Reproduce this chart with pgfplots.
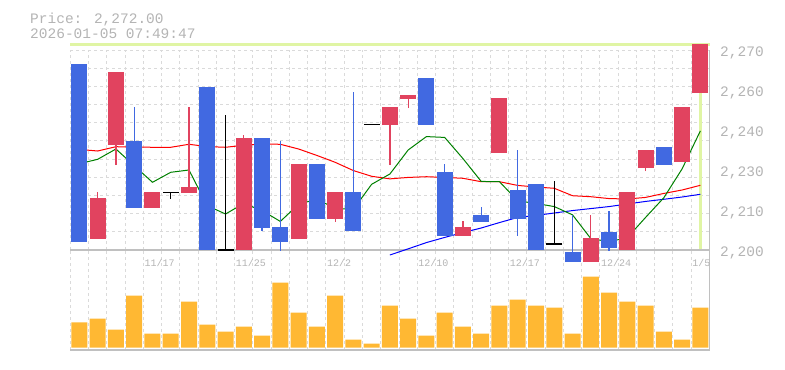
\documentclass[border=0pt]{standalone}
\usepackage{fontspec}
\setmainfont{Liberation Mono}
\usepackage{pgfplots}
\usepackage{pgfplotstable}
\pgfplotsset{compat=1.18}
\definecolor{cblue}{RGB}{65,105,225}
\definecolor{cred}{RGB}{225,67,95}
\definecolor{cvol}{RGB}{255,184,51}
\definecolor{lgreen}{RGB}{224,245,164}
\definecolor{gridc}{RGB}{218,218,218}
\definecolor{framec}{RGB}{192,192,192}
\definecolor{txtc}{RGB}{180,180,180}
\definecolor{magreen}{RGB}{0,128,0}

% bodies: x lo hi
\pgfplotstableread{
x lo hi
1 2203.9 2218.2
2 2236.75 2262.3
4 2214.7 2220.3
6 2219.95 2222.05
9 2200 2239.2
12 2203.85 2230.1
14 2210.85 2220.3
17 2243.75 2250.05
18 2252.85 2254.25
21 2204.9 2208.05
23 2233.95 2253.2
28 2195.9 2204.2
30 2200 2220.3
31 2228.7 2235
33 2230.8 2250.05
34 2254.95 2272
}\redbody
\pgfplotstableread{
x lo hi
0 2202.9 2265.1
3 2214.7 2238.15
7 2200 2257.05
10 2207.8 2239.2
11 2202.9 2208.05
13 2210.85 2230.1
15 2206.65 2220.3
19 2243.75 2260.2
20 2204.9 2227.3
22 2209.8 2212.25
24 2210.85 2221
25 2200 2223.1
27 2195.9 2199.3
29 2200.7 2206.3
32 2229.75 2236.05
}\bluebody
\pgfplotstableread{
x lo hi
1 2218.2 2220.3
2 2229.75 2236.75
6 2222.05 2250.05
9 2239.2 2240.25
14 2209.8 2210.85
17 2229.75 2243.75
18 2249.7 2252.85
21 2208.05 2210.15
28 2204.2 2212.25
31 2227.65 2228.7
}\redwick
\pgfplotstableread{
x lo hi
3 2238.15 2250.05
10 2206.75 2207.8
11 2199.75 2238.15
15 2220.3 2255.3
20 2227.3 2230.1
22 2212.25 2215.05
24 2204.9 2235
27 2199.3 2212.25
29 2199.65 2213.65
}\bluewick
\pgfplotstableread{
x lo hi
5 2218 2220.2
8 2200 2247.25
16 2244 2244
26 2202.1 2224.15
}\blackwick
\pgfplotstableread{
x y
5 2220.2
8 2200
16 2244
26 2202.1
}\dojitab
\pgfplotstableread{
x y
0 2230.2
1 2231.75
2 2235.35
3 2229.5
4 2223.7
5 2227.2
6 2228
7 2215.5
8 2212.6
9 2216.3
10 2213.8
11 2210.0
12 2216.0
13 2217.8
14 2214.6
15 2214.2
16 2223.0
17 2226.6
18 2235.0
19 2239.7
20 2239.4
21 2232.0
22 2224.0
23 2223.9
24 2217.2
25 2216.3
26 2215.2
27 2212.3
28 2204.0
29 2202.9
30 2204.3
31 2211.4
32 2218.3
33 2228.4
34 2241.7
}\magreentab
\pgfplotstableread{
x y
0 2235.2
1 2234.65
2 2236.15
3 2236.05
4 2235.95
5 2235.95
6 2237
7 2236.2
8 2235.95
9 2236.65
10 2237.1
11 2237
12 2235.35
13 2233.1
14 2230.7
15 2227.8
16 2225.8
17 2224.9
18 2225.4
19 2225.65
20 2225.4
21 2225.1
22 2223.9
23 2223.9
24 2222.6
25 2222.05
26 2221.6
27 2219
28 2218.65
29 2218
30 2217.85
31 2218.4
32 2219.8
33 2221
34 2222.65
}\maredtab
\pgfplotstableread{
x y
17 2198.25
18 2200.4
19 2202.6
20 2204.4
21 2206.1
22 2207.7
23 2209.6
24 2211.4
25 2212.1
26 2212.95
27 2213.8
28 2214.5
29 2215.2
30 2216.1
31 2217
32 2217.75
33 2218.55
34 2219.5
}\mabluetab
\pgfplotstableread{
x v
0 25.3
1 29
2 18
3 52
4 14
5 14
6 46
7 23
8 16
9 21
10 12
11 65
12 35
13 21
14 52
15 8
16 4
17 42
18 29
19 12
20 35
21 21
22 14
23 42
24 48
25 42
26 40
27 14
28 71
29 55
30 46
31 42
32 16
33 8
34 40
}\voltab

\pgfplotsset{
  candle/.style={forget plot, draw=none, mark=none,
    error bars/.cd, y dir=plus, y explicit, error mark=none,
    error bar style={draw=#1, line width=16bp}},
  wick/.style={forget plot, draw=none, mark=none,
    error bars/.cd, y dir=plus, y explicit, error mark=none,
    error bar style={draw=#1, line width=1.2bp}},
  vgrid/.style={
    xtick={-0.5,0.5,...,34.5}, xticklabel={\phantom{0}},
    xmajorgrids=true,
    major grid style={gridc, dash pattern=on 3bp off 3bp, line width=1bp},
    minor grid style={gridc, dash pattern=on 3bp off 3bp, line width=1bp},
    minor tick length=0pt, major tick length=0pt,
  },
}
\tikzset{datelbl/.style={anchor=base west, inner sep=0pt, xshift=1bp, text=txtc, font=\fontsize{10bp}{12bp}\selectfont}}

\begin{document}
\begin{tikzpicture}
\path[use as bounding box] (0,0) rectangle (785bp,370bp);
\node[anchor=base west, inner sep=0pt, text=txtc, font=\fontsize{14.5bp}{16bp}\selectfont] at (30bp,346.7bp) {Price: 2,272.00};
\node[anchor=base west, inner sep=0pt, text=txtc, font=\fontsize{14.5bp}{16bp}\selectfont] at (30bp,331.7bp) {2026-01-05 07:49:47};

% volume panel
\begin{axis}[
  at={(70.3bp,20bp)}, anchor=south west, scale only axis,
  width=639.2bp, height=100bp,
  xmin=-0.5, xmax=34.5, ymin=-2.3, ymax=97.7,
  clip=false,
  axis line style={draw=none},
  vgrid,
  ytick=\empty,
]
\addplot[ybar, bar width=16bp, fill=cvol, draw=none, forget plot] table[x=x,y=v] {\voltab};
\draw[framec, line width=1.5bp] (axis cs:-0.5,-2.3) -- (axis cs:34.5,-2.3) -- (axis cs:34.5,97.7);
\node[datelbl] at (axis cs:3.5,81.7) {11/17};
\node[datelbl] at (axis cs:8.5,81.7) {11/25};
\node[datelbl] at (axis cs:13.5,81.7) {12/2};
\node[datelbl] at (axis cs:18.5,81.7) {12/10};
\node[datelbl] at (axis cs:23.5,81.7) {12/17};
\node[datelbl] at (axis cs:28.5,81.7) {12/24};
\node[datelbl] at (axis cs:33.5,81.7) {1/5};
\end{axis}

% price panel
\begin{axis}[
  at={(70.3bp,120bp)}, anchor=south west, scale only axis,
  width=639.2bp, height=200bp,
  xmin=-0.5, xmax=34.5, ymin=2200, ymax=2270,
  clip=false,
  axis line style={draw=none},
  vgrid,
  ytick={2200,2214,2228,2242,2256,2270},
  yticklabels={{2,200},{2,210},{2,230},{2,240},{2,260},{2,270}},
  minor ytick={2206.364,2212.727,2219.091,2225.455,2231.818,2238.182,2244.545,2250.909,2257.273,2263.636,2270},
  ymajorgrids=false, yminorgrids=true,
  yticklabel pos=right,
  yticklabel style={anchor=west, inner sep=0pt, xshift=10.5bp, yshift=-3bp, text=txtc, font=\fontsize{14.5bp}{16bp}\selectfont},
]
\draw[framec, line width=1.5bp] (axis cs:-0.5,2200) -- (axis cs:34.5,2200) -- (axis cs:34.5,2270);
\addplot[lgreen, line width=3bp, mark=none, forget plot] coordinates {(-0.5,2272) (34.5,2272)};
\addplot[lgreen, line width=2.5bp, mark=none, forget plot] coordinates {(34,2272) (34,2200.35)};
\addplot[blue, line width=1bp, mark=none, forget plot] table[x=x,y=y] {\mabluetab};
\addplot[red, line width=1bp, mark=none, forget plot] table[x=x,y=y] {\maredtab};
\addplot[magreen, line width=1bp, mark=none, forget plot] table[x=x,y=y] {\magreentab};
\addplot[wick=cred] table[x=x, y=lo, y error plus expr=\thisrow{hi}-\thisrow{lo}] {\redwick};
\addplot[wick=cblue] table[x=x, y=lo, y error plus expr=\thisrow{hi}-\thisrow{lo}] {\bluewick};
\addplot[wick=black] table[x=x, y=lo, y error plus expr=\thisrow{hi}-\thisrow{lo}] {\blackwick};
\addplot[candle=cred] table[x=x, y=lo, y error plus expr=\thisrow{hi}-\thisrow{lo}] {\redbody};
\addplot[candle=cblue] table[x=x, y=lo, y error plus expr=\thisrow{hi}-\thisrow{lo}] {\bluebody};
\addplot[black, line width=1.3bp, only marks, mark=-, mark size=8bp, forget plot] table[x=x, y=y] {\dojitab};
\end{axis}
\end{tikzpicture}
\end{document}
